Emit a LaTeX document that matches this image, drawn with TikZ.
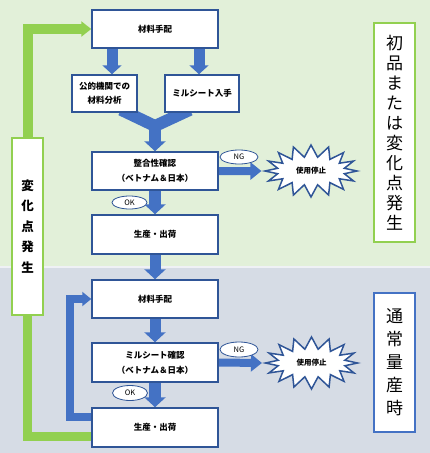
\documentclass[tikz,border=0pt]{standalone}
\usepackage{fontspec}
\setmainfont{Noto Sans CJK JP}
\usetikzlibrary{arrows.meta,shapes.geometric,shapes.symbols,calc}
\definecolor{boxblue}{RGB}{47,85,151}
\definecolor{arrblue}{RGB}{68,114,196}
\definecolor{lgreen}{RGB}{146,208,80}
\definecolor{topbg}{RGB}{226,240,217}
\definecolor{botbg}{RGB}{214,220,229}
\pgfdeclarelayer{back}
\pgfdeclarelayer{arr}
\pgfsetlayers{back,arr,main}
\tikzset{
  flowbox/.style={draw=boxblue, line width=1.5pt, fill=white, align=center, inner sep=1pt,
    font=\bfseries\fontsize{8.5}{15}\selectfont},
  okng/.style={ellipse, draw=boxblue, line width=0.8pt, fill=white, inner sep=0pt,
    font=\fontsize{7.5}{8}\selectfont},
  burst/.style={starburst, starburst points=16, starburst point height=12pt, random starburst=0,
    draw=boxblue, line width=1.5pt, fill=white, inner sep=0pt,
    minimum width=92pt, minimum height=52pt, font=\bfseries\fontsize{7.5}{9}\selectfont},
  sidebox/.style={draw=#1, line width=2.5pt, fill=white, align=center, inner sep=0pt},
  barrow/.style={draw=arrblue, line width=#1, -{Triangle[width=21pt,length=10pt]}},
  nbarrow/.style={draw=arrblue, line width=8pt, -{Triangle[width=17pt,length=11pt]}},
  gline/.style={draw=lgreen, line width=10pt, line join=miter},
  bloop/.style={draw=arrblue, line width=8pt, line join=miter},
}
\begin{document}
\begin{tikzpicture}[x=1pt,y=-1pt]
\useasboundingbox (0,0) rectangle (430,453);
\begin{pgfonlayer}{back}
  \fill[topbg] (0,0) rectangle (430,266);
  \fill[white!60!botbg] (0,266) rectangle (430,267.5);
  \fill[botbg] (0,267.5) rectangle (430,453);
\end{pgfonlayer}

% main boxes
\node[flowbox, minimum width=126pt, minimum height=38pt] (m1) at (155,29) {材料手配};
\node[flowbox, minimum width=65pt, minimum height=37pt, font=\bfseries\fontsize{8.5}{14}\selectfont] (a1) at (104.5,93.5) {公的機関での\\材料分析};
\node[flowbox, minimum width=74pt, minimum height=37pt] (a2) at (202,93.5) {ミルシート入手};
\node[flowbox, minimum width=126pt, minimum height=38pt] (c1) at (155,171) {整合性確認\\（ベトナム＆日本）};
\node[flowbox, minimum width=126pt, minimum height=39pt] (p1) at (155,234.5) {生産・出荷};
\node[flowbox, minimum width=126pt, minimum height=38pt] (m2) at (155,299) {材料手配};
\node[flowbox, minimum width=126pt, minimum height=39pt] (c2) at (155,362.5) {ミルシート確認\\（ベトナム＆日本）};
\node[flowbox, minimum width=126pt, minimum height=39pt] (p2) at (155,427.5) {生産・出荷};

% OK / NG
\node[okng, minimum width=35pt, minimum height=13pt] (ok1) at (129.5,202.5) {OK};
\node[okng, minimum width=35pt, minimum height=15pt] (ok2) at (130,393) {OK};
\node[okng, minimum width=38pt, minimum height=14pt] (ng1) at (239,157) {NG};
\node[okng, minimum width=38pt, minimum height=15pt] (ng2) at (239,349.5) {NG};

% bursts
\node[burst] (b1) at (311,171) {使用停止};
\node[burst] (b2) at (311.5,363) {使用停止};

% side labels
\node[sidebox=lgreen, minimum width=41pt, minimum height=219pt,
  font=\fontsize{17}{20}\selectfont] (rt) at (394.5,132.5) {初\\品\\ま\\た\\は\\変\\化\\点\\発\\生};
\node[sidebox=arrblue, minimum width=41pt, minimum height=139pt,
  font=\fontsize{17}{23}\selectfont] (rb) at (394.5,362.5) {通\\常\\量\\産\\時};
\node[sidebox=lgreen, minimum width=31pt, minimum height=177pt,
  font=\bfseries\fontsize{12.5}{20.5}\selectfont] (lb) at (27.5,226.5) {変\\化\\点\\発\\生};

\coordinate (xl) at (112,0);
\coordinate (xr) at (199,0);
\coordinate (bl) at (121,0);
\coordinate (br) at (190,0);
\coordinate (mg) at (155,126);
\coordinate (mg2) at (155,121);

\begin{pgfonlayer}{arr}
  \draw[barrow=11pt, -{Triangle[width=19pt,length=9pt]}] (m1.south -| xl) -- (a1.north -| xl);
  \draw[barrow=11pt, -{Triangle[width=19pt,length=9pt]}] (m1.south -| xr) -- (a2.north -| xr);
  \draw[draw=arrblue, line width=12pt, line join=miter] ($(a1.south -| bl)+(0,-3)$) -- (mg) -- ($(a2.south -| br)+(0,-3)$);
  \draw[barrow=12pt] (mg2) -- (c1.north);
  \draw[barrow=12pt] (c1.south) -- (p1.north);
  \draw[barrow=11pt] (p1.south) -- (m2.north);
  \draw[barrow=11pt] (m2.south) -- (c2.north);
  \draw[barrow=12pt] (c2.south) -- (p2.north);
  \draw[nbarrow] (c1.east) -- (b1.west);
  \draw[nbarrow] (c2.east) -- (b2.west);
  \draw[gline, -{Triangle[width=15pt,length=10pt]}] (lb.north) |- (m1.west);
  \draw[gline, line width=9pt] (lb.south) |- ($(p2.west)+(0,8.5)$);
  \draw[bloop, -{Triangle[width=14pt,length=9pt]}] ($(p2.west)+(0,-10.5)$) -- ++(-21,0) |- (m2.west);
\end{pgfonlayer}
\end{tikzpicture}
\end{document}
